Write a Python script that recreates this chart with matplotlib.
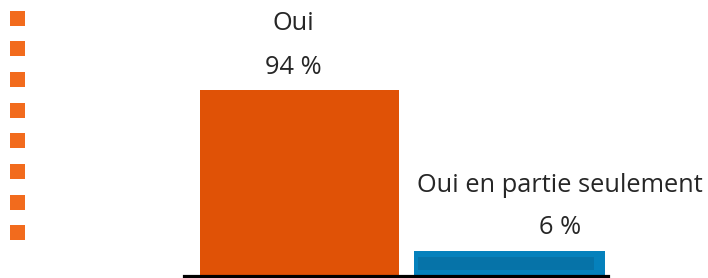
import matplotlib
matplotlib.use("Agg")
import matplotlib.pyplot as plt
from matplotlib.patches import Rectangle
import numpy as np

categories = ["Oui", "Oui en partie seulement"]
values = [94, 6]
value_labels = ["94 %", "6 %"]
bar_colors = ["#E05206", "#0581BC"]

W, H = 708, 278
fig = plt.figure(figsize=(W / 100, H / 100), dpi=100)
fig.patch.set_facecolor("white")

# decorative column of squares
for k in range(8):
    yc = 18 + 30.7 * k
    fig.patches.append(Rectangle((10 / W, 1 - (yc + 7.5) / H), 15 / W, 15 / H,
                                 transform=fig.transFigure, facecolor="#F26B1D",
                                 edgecolor="none"))

ax = fig.add_axes([184 / W, 2 / H, (608 - 184) / W, 274 / H])
x = np.arange(len(values))
min_visible = 12.5
heights = np.maximum(values, min_visible)
ax.bar(x[0], heights[0], width=0.95, color=bar_colors[0], linewidth=0)
ax.bar(x[1], heights[1], width=0.91, color=bar_colors[1], linewidth=0)
# inner stripe on blue bar
ax.bar(x[1] - 0.015, heights[1] * 0.5, bottom=heights[1] * 0.25, width=0.84,
       color="#0673A8", linewidth=0)
ax.set_xlim(-0.55, 1.47)
ax.set_ylim(0, 94 * 274 / 186)
ax.axhline(0, color="black", linewidth=2.3, clip_on=False)
for s in ax.spines.values():
    s.set_visible(False)
ax.set_xticks([])
ax.set_yticks([])

fam = ["Open Sans", "DejaVu Sans"]
tc = "#262626"
fs = 18.3
fig.text(293 / W, 1 - 24 / H, categories[0], ha="center", va="center",
         fontsize=fs, color=tc, family=fam)
fig.text(293 / W, 1 - 68 / H, value_labels[0], ha="center", va="center",
         fontsize=fs, color=tc, family=fam)
fig.text(560 / W, 1 - 185 / H, categories[1], ha="center", va="center",
         fontsize=fs, color=tc, family=fam)
fig.text(560 / W, 1 - 227 / H, value_labels[1], ha="center", va="center",
         fontsize=fs, color=tc, family=fam)

fig.savefig("out.png", dpi=100)
